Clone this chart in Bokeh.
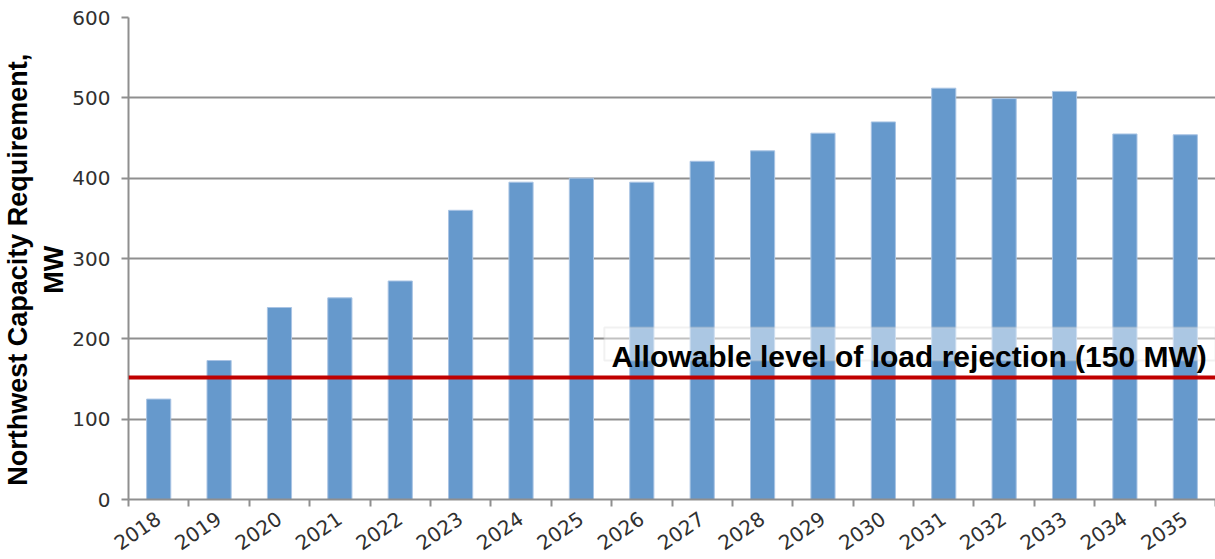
from bokeh.plotting import figure
from bokeh.models import (FixedTicker, LinearAxis, Range1d,
                          Span, Label, BoxAnnotation)
from bokeh.embed import file_html
from bokeh.resources import INLINE

years = ["2018", "2019", "2020", "2021", "2022", "2023", "2024", "2025", "2026",
         "2027", "2028", "2029", "2030", "2031", "2032", "2033", "2034", "2035"]
capacity = [125, 173, 239, 251, 272, 360, 395, 400, 395,
            421, 434, 456, 470, 512, 499, 508, 455, 454]
y_ticks = [0, 100, 200, 300, 400, 500, 600]
threshold = 152
note_text = "Allowable level of load rejection (150 MW)"
y_label = "Northwest Capacity Requirement,\u00a0\u00a0\u00a0\nMW\u00a0\u00a0\u00a0"

GRID = "#8F8F8F"
TICK_FONT = "DejaVu Sans"
TEXT_COLOR = "#303030"

n = len(years)
centers = [i + 0.5 for i in range(n)]
boundaries = list(range(n + 1))

p = figure(x_range=Range1d(0, n), y_range=Range1d(0, 600),
           width=1215, height=559, output_backend="svg", toolbar_location=None,
           x_axis_location=None,
           min_border_left=126, min_border_right=0, min_border_top=17,
           min_border_bottom=60)
p.outline_line_color = None
p.background_fill_color = "white"

# labels at category centres, tick marks between categories (Excel style)
x_axis = LinearAxis(ticker=FixedTicker(ticks=centers, minor_ticks=boundaries),
                    major_label_overrides={c: y for c, y in zip(centers, years)},
                    major_tick_line_color=None, major_tick_out=7, major_tick_in=0,
                    minor_tick_line_color=GRID, minor_tick_line_width=2,
                    minor_tick_out=7, minor_tick_in=0,
                    axis_line_color=GRID, axis_line_width=2,
                    major_label_orientation=0.6,
                    major_label_standoff=10,
                    major_label_text_font=TICK_FONT,
                    major_label_text_font_size="20px",
                    major_label_text_color=TEXT_COLOR)
p.add_layout(x_axis, "below")

ya = p.yaxis[0]
ya.ticker = FixedTicker(ticks=y_ticks)
ya.major_tick_out = 7
ya.major_tick_in = 0
ya.minor_tick_line_color = None
ya.axis_line_color = GRID
ya.axis_line_width = 2
ya.major_tick_line_color = GRID
ya.major_tick_line_width = 2
ya.major_label_text_font = TICK_FONT
ya.major_label_text_font_size = "20px"
ya.major_label_text_color = TEXT_COLOR
ya.major_label_standoff = 11
ya.axis_label = y_label
ya.axis_label_text_font = "Liberation Sans"
ya.axis_label_text_font_style = "bold"
ya.axis_label_text_font_size = "27px"
ya.axis_label_text_color = "black"
ya.axis_label_standoff = 0

for g in p.xgrid:
    g.visible = False
p.ygrid.grid_line_color = GRID
p.ygrid.grid_line_width = 2

p.vbar(x=centers, top=capacity, width=0.4, fill_color="#6699CC",
       line_color="#A9C4E4", line_width=1)

p.add_layout(Span(location=threshold, dimension="width",
                  line_color="#C00000", line_width=4))

p.add_layout(BoxAnnotation(left=7.88, right=n, bottom=173, top=214,
                           fill_color="white", fill_alpha=0.45,
                           line_color="#D0D0D0", line_width=2))
p.add_layout(Label(x=8.0, y=178, text=note_text,
                   text_font="Liberation Sans", text_font_style="bold",
                   text_font_size="30px", text_color="black",
                   text_baseline="alphabetic"))

open("out.html", "w").write(file_html(p, INLINE))
